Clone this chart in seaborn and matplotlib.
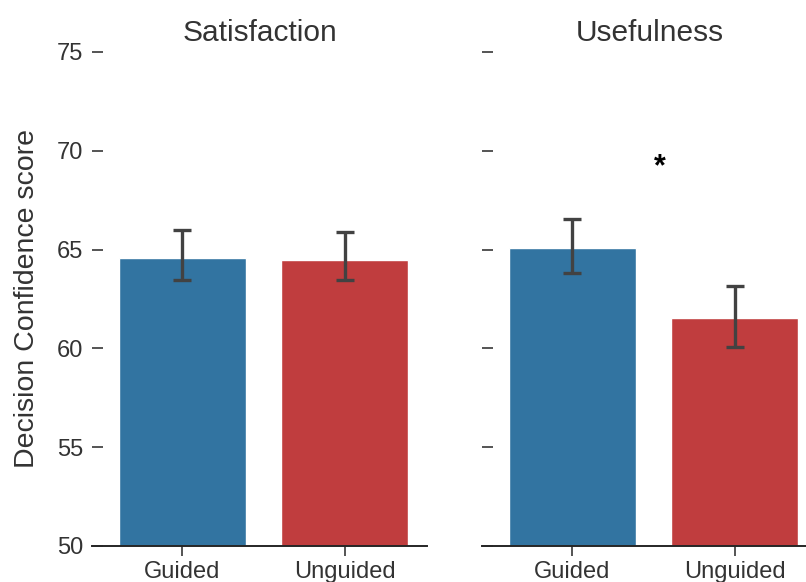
import matplotlib
matplotlib.use("Agg")
import matplotlib.pyplot as plt
import seaborn as sns
import pandas as pd

# Mean decision-confidence scores with confidence-interval bounds per condition
conditions = ["Guided", "Unguided"]
panels = ["Satisfaction", "Usefulness"]
satisfaction_mean = [64.56, 64.47]
satisfaction_low = [63.46, 63.46]
satisfaction_high = [65.99, 65.88]
usefulness_mean = [65.06, 61.52]
usefulness_low = [63.83, 60.09]
usefulness_high = [66.53, 63.17]
colors = ["#1f77b4", "#d62728"]
yticks = [50, 55, 60, 65, 70, 75]

sns.set_theme(style="ticks")
plt.rcParams["font.family"] = ["Liberation Sans", "DejaVu Sans"]
text_color = "#333333"

fig = plt.figure(figsize=(8.06, 5.82), dpi=100)
ax1 = fig.add_axes([0.1141, 0.0619, 0.4157, 0.8488])
ax2 = fig.add_axes([0.598, 0.0619, 0.4156, 0.8488], sharey=ax1)

data = {
    "Satisfaction": (satisfaction_mean, satisfaction_low, satisfaction_high),
    "Usefulness": (usefulness_mean, usefulness_low, usefulness_high),
}

for ax, panel in zip([ax1, ax2], panels):
    means, lows, highs = data[panel]
    df = pd.DataFrame({"condition": conditions, "score": means})
    sns.barplot(data=df, x="condition", y="score", hue="condition",
                palette=colors, width=0.78, errorbar=None, legend=False, ax=ax)
    lower = [m - l for m, l in zip(means, lows)]
    upper = [h - m for m, h in zip(means, highs)]
    ax.errorbar(x=[0, 1], y=means, yerr=[lower, upper], fmt="none",
                ecolor="#424242", elinewidth=2.4, capsize=6.8, capthick=2.4, zorder=5)
    ax.set_title(panel, fontsize=21.5, color=text_color, pad=8)
    ax.set_xlim(-0.556, 1.506)
    ax.set_ylim(50, 75)
    ax.set_yticks(yticks)
    ax.set_xlabel("")
    ax.tick_params(axis="x", labelsize=17, length=7.2, width=1.1,
                   colors="#262626", labelcolor=text_color)
    ax.tick_params(axis="y", direction="in", labelsize=17, length=7.8, width=1.1,
                   pad=6.5, colors="#262626", labelcolor=text_color)
    sns.despine(ax=ax, left=True)
    ax.spines["bottom"].set_linewidth(1.4)
    ax.spines["bottom"].set_color("#262626")

ax1.set_ylabel("Decision Confidence score", fontsize=20.5, color=text_color, labelpad=12)
ax2.set_ylabel("")
ax2.tick_params(axis="y", labelleft=False)

# significance marker between the usefulness bars
ax2.text(0.54, 69.15, "*", ha="center", va="center", fontsize=22,
         fontweight="bold", color="black")

fig.savefig("out.png", dpi=100)
